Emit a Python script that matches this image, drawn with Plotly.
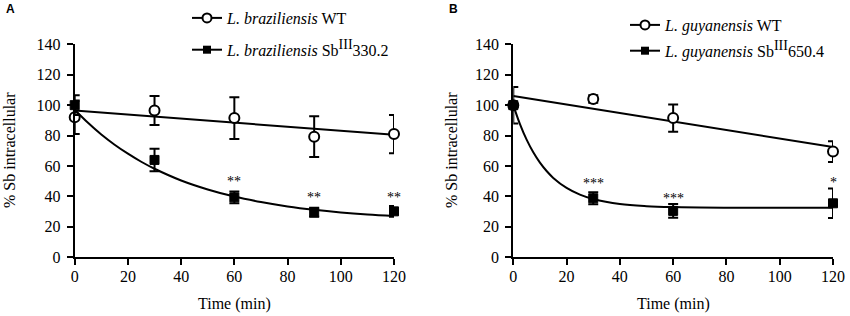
import plotly.graph_objects as go

# ---------------- data ----------------
time_A = [0, 30, 60, 90, 120]
wt_A = [92, 96.5, 91.5, 79.3, 81]
wt_A_err = [11, 9.5, 13.7, 13.4, 12.6]
mut_A = [100, 64, 39.4, 29.6, 30.2]
mut_A_err = [6.5, 7.4, 3.8, 3.0, 3.5]

fitline_A_t = [0, 120]
fitline_wt_A = [96.5, 80.5]
fit_A_t = [0, 5, 10, 15, 20, 25, 30, 40, 50, 60, 70, 80, 90, 100, 110, 120]
fit_mut_A = [97, 88.4, 80.7, 74.0, 68.1, 62.8, 58.2, 50.5, 44.6, 39.9, 36.3, 33.4, 31.2, 29.5, 28.2, 27.2]

time_B = [0, 30, 60, 120]
wt_B = [100, 104, 91.5, 69.5]
wt_B_err = [12, 2.5, 9, 6.8]
mut_B = [100, 38.8, 30.5, 35.5]
mut_B_err = [1, 4, 4.5, 9.7]

fitline_B_t = [0, 120]
fitline_wt_B = [106, 72.5]
fit_B_t = [0, 2.5, 5, 7.5, 10, 12.5, 15, 20, 25, 30, 40, 50, 60, 80, 100, 120]
fit_mut_B = [100, 87.5, 77.3, 69.0, 62.2, 56.7, 52.2, 45.6, 41.2, 38.3, 35.0, 33.6, 33.0, 32.6, 32.5, 32.5]

sig_A_t = [60, 90, 120]
sig_A_y = [50, 39, 39]
sig_A_txt = ["**", "**", "**"]
sig_B_t = [30, 60, 120]
sig_B_y = [48.5, 38.5, 49.3]
sig_B_txt = ["***", "***", "*"]

x_ticks = [0, 20, 40, 60, 80, 100, 120]
y_ticks = [0, 20, 40, 60, 80, 100, 120, 140]

SUP = "<sup><span style='font-size:14px'>III</span></sup>"
names_A = ["<i>L. braziliensis</i> WT", "<i>L. braziliensis</i> Sb" + SUP + "330.2"]
names_B = ["<i>L. guyanensis</i> WT", "<i>L. guyanensis</i> Sb" + SUP + "650.4"]

# ---------------- figure ----------------
W, H = 850, 316
SERIF = "Liberation Serif"
BLACK = "black"

fig = go.Figure()


def add_panel(xa, ya, t, wt, wt_err, mut, mut_err, lt, lwt, ft, fmut, names, legend_id):
    # fitted curves
    fig.add_trace(go.Scatter(x=lt, y=lwt, mode="lines", line=dict(color=BLACK, width=2),
                             xaxis=xa, yaxis=ya, showlegend=False, hoverinfo="skip", cliponaxis=False))
    fig.add_trace(go.Scatter(x=ft, y=fmut, mode="lines", line=dict(color=BLACK, width=2, shape="spline"),
                             xaxis=xa, yaxis=ya, showlegend=False, hoverinfo="skip", cliponaxis=False))
    # WT points
    fig.add_trace(go.Scatter(x=t, y=wt, mode="markers",
                             marker=dict(symbol="circle", size=10, color="white", line=dict(color=BLACK, width=2)),
                             error_y=dict(type="data", array=wt_err, visible=True, color=BLACK, thickness=2, width=5),
                             xaxis=xa, yaxis=ya, showlegend=False, cliponaxis=False))
    # mutant points
    fig.add_trace(go.Scatter(x=t, y=mut, mode="markers",
                             marker=dict(symbol="square", size=9, color=BLACK, line=dict(color=BLACK, width=1)),
                             error_y=dict(type="data", array=mut_err, visible=True, color=BLACK, thickness=2, width=5),
                             xaxis=xa, yaxis=ya, showlegend=False, cliponaxis=False))
    # legend entries
    fig.add_trace(go.Scatter(x=[None], y=[None], mode="lines+markers", name=names[0],
                             line=dict(color=BLACK, width=2),
                             marker=dict(symbol="circle", size=9, color="white", line=dict(color=BLACK, width=2)),
                             xaxis=xa, yaxis=ya, legend=legend_id, legendgroup=legend_id + "a"))
    fig.add_trace(go.Scatter(x=[None], y=[None], mode="lines+markers", name=names[1],
                             line=dict(color=BLACK, width=2),
                             marker=dict(symbol="square", size=8, color=BLACK),
                             xaxis=xa, yaxis=ya, legend=legend_id, legendgroup=legend_id + "b"))


add_panel("x", "y", time_A, wt_A, wt_A_err, mut_A, mut_A_err, fitline_A_t, fitline_wt_A,
          fit_A_t, fit_mut_A, names_A, "legend")
add_panel("x2", "y2", time_B, wt_B, wt_B_err, mut_B, mut_B_err, fitline_B_t, fitline_wt_B,
          fit_B_t, fit_mut_B, names_B, "legend2")

# pixel geometry
ax_A = (74.7, 394.0)
ax_B = (513.3, 833.0)
y_bot, y_top = 257.3, 44.3

xd_A = [ax_A[0] / W, ax_A[1] / W]
xd_B = [ax_B[0] / W, ax_B[1] / W]
yd = [(H - y_bot) / H, (H - y_top) / H]

axis_common = dict(showline=True, linecolor=BLACK, linewidth=2, ticks="outside", ticklen=6,
                   tickwidth=2, tickcolor=BLACK, showgrid=False, zeroline=False, automargin=False,
                   tickfont=dict(family=SERIF, size=16, color=BLACK))
xaxis_common = dict(axis_common, ticklabelstandoff=-3)
yaxis_common = dict(axis_common, ticklabelstandoff=3)

legend_common = dict(xref="container", yref="container", xanchor="left", yanchor="top",
                     bgcolor="rgba(0,0,0,0)", font=dict(family=SERIF, size=16, color=BLACK), itemwidth=30)

fig.update_layout(
    width=W, height=H,
    margin=dict(l=0, r=0, t=0, b=0, autoexpand=False),
    paper_bgcolor="white", plot_bgcolor="white",
    font=dict(family=SERIF, size=16, color=BLACK),
    xaxis=dict(domain=xd_A, range=[0, 120], tickvals=x_ticks, anchor="y", **xaxis_common),
    yaxis=dict(domain=yd, range=[0, 140], tickvals=y_ticks, anchor="x", **yaxis_common),
    xaxis2=dict(domain=xd_B, range=[0, 120], tickvals=x_ticks, anchor="y2", **xaxis_common),
    yaxis2=dict(domain=yd, range=[0, 140], tickvals=y_ticks, anchor="x2", **yaxis_common),
    legend=dict(x=187 / W, y=1 - 1 / H, tracegroupgap=8, **legend_common),
    legend2=dict(x=625 / W, y=1 - 8 / H, tracegroupgap=2, **legend_common),
)

annotations = []
# significance stars
for t, y, s in zip(sig_A_t, sig_A_y, sig_A_txt):
    annotations.append(dict(x=t, y=y, xref="x", yref="y", text=s, showarrow=False,
                            font=dict(family=SERIF, size=14, color=BLACK), yanchor="middle"))
for t, y, s in zip(sig_B_t, sig_B_y, sig_B_txt):
    annotations.append(dict(x=t, y=y, xref="x2", yref="y2", text=s, showarrow=False,
                            font=dict(family=SERIF, size=14, color=BLACK), yanchor="middle"))
# axis titles
for cx, ty in [((ax_A[0] + ax_A[1]) / 2, 304), ((ax_B[0] + ax_B[1]) / 2, 304)]:
    annotations.append(dict(x=cx / W, y=1 - ty / H, xref="paper", yref="paper", text="Time (min)",
                            showarrow=False, font=dict(family=SERIF, size=16, color=BLACK),
                            xanchor="center", yanchor="middle"))
for cx in [9, 451]:
    annotations.append(dict(x=cx / W, y=1 - 150 / H, xref="paper", yref="paper", text="% Sb intracellular",
                            textangle=-90, showarrow=False, font=dict(family=SERIF, size=16, color=BLACK),
                            xanchor="center", yanchor="middle"))
# panel letters
for cx, letter in [(10, "A"), (453, "B")]:
    annotations.append(dict(x=cx / W, y=1 - 9 / H, xref="paper", yref="paper", text="<b>%s</b>" % letter,
                            showarrow=False, font=dict(family="Liberation Sans", size=12, color=BLACK),
                            xanchor="center", yanchor="middle"))
fig.update_layout(annotations=annotations)

# remove the default page margin so the figure sits at the window's top-left corner
fig.write_html("out.html", config={"displayModeBar": False},
               post_script="document.body.style.margin='0px';document.body.style.overflow='hidden';")
